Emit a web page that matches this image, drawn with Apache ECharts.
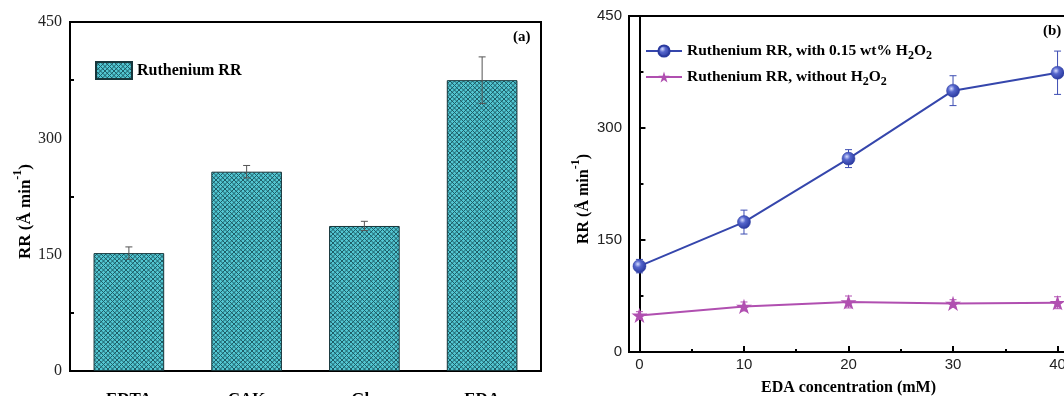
<!DOCTYPE html>
<html>
<head>
<meta charset="utf-8">
<script src="https://cdn.jsdelivr.net/npm/echarts@6/dist/echarts.min.js"></script>
<style>
html,body{margin:0;padding:0;background:#fff;}
#chart{width:1064px;height:396px;}
</style>
</head>
<body>
<div id="chart"></div>
<script>
// ---- data ----
const categories = ['EDTA', 'CAK', 'Gly', 'EDA'];
const barValues = [152, 257, 187, 375];
const barErrors = [8, 8, 6, 30];

const concentrations = [0, 10, 20, 30, 40];
const withH2O2 = [115, 174, 259, 350, 374];
const withH2O2Err = [9, 16, 12, 20, 29];
const withoutH2O2 = [49, 61, 67, 65, 66];
const withoutH2O2Err = [5, 6, 8, 5, 8];

const concTicks = [0, 10, 20, 30, 40];
const concMinorTicks = [5, 15, 25, 35];

const nameBar = 'Ruthenium RR';
const nameWith = 'Ruthenium RR, with 0.15 wt% H2O2';
const nameWithout = 'Ruthenium RR, without H2O2';

// ---- style helpers ----
const SERIF = '"Liberation Serif", "Times New Roman", serif';
const SANS = '"Liberation Sans", Arial, sans-serif';

function makePattern() {
  const c = document.createElement('canvas');
  const s = 9, p = 4.5;
  c.width = s; c.height = s;
  const ctx = c.getContext('2d');
  ctx.fillStyle = '#52c6d2';
  ctx.fillRect(0, 0, s, s);
  ctx.strokeStyle = '#1d5d67';
  ctx.lineWidth = 1;
  ctx.beginPath();
  for (let k = -3; k <= 3; k++) {
    ctx.moveTo(k * p, 0); ctx.lineTo(k * p + s, s);
  }
  for (let k = 0; k <= 6; k++) {
    ctx.moveTo(k * p, 0); ctx.lineTo(k * p - s, s);
  }
  ctx.stroke();
  return c;
}
const pattern = { image: makePattern(), repeat: 'repeat' };

const starPath = 'path://M100 0 L122.45 69.1 L195.1 69.1 L136.3 111.8 L158.8 180.9 L100 138.2 L41.2 180.9 L63.7 111.8 L4.9 69.1 L77.55 69.1 Z';

function errData(xs, vals, errs) {
  return vals.map((v, i) => [xs[i], v - errs[i], v + errs[i]]);
}
function errRenderer(color, cap) {
  return function (params, api) {
    const x = api.value(0);
    const top = api.coord([x, api.value(2)]);
    const bot = api.coord([x, api.value(1)]);
    const st = { stroke: color, lineWidth: 1 };
    return {
      type: 'group',
      children: [
        { type: 'line', shape: { x1: top[0], y1: top[1], x2: bot[0], y2: bot[1] }, style: st },
        { type: 'line', shape: { x1: top[0] - cap, y1: top[1], x2: top[0] + cap, y2: top[1] }, style: st },
        { type: 'line', shape: { x1: bot[0] - cap, y1: bot[1], x2: bot[0] + cap, y2: bot[1] }, style: st }
      ]
    };
  };
}

const legendRich = {
  n: { fontFamily: SERIF, fontWeight: 'bold', fontSize: 15.5, color: '#000', lineHeight: 22, verticalAlign: 'middle' },
  s: { fontFamily: SERIF, fontWeight: 'bold', fontSize: 12, color: '#000', lineHeight: 13, verticalAlign: 'bottom' }
};
function subFormat(name) {
  return name.split(/(H2O2)/).map(part =>
    part === 'H2O2' ? '{n|H}{s|2}{n|O}{s|2}' : (part ? '{n|' + part + '}' : '')
  ).join('');
}

function yName(size) {
  return {
    name: '{b|RR (Å min}{sup|-1}{b|)}',
    nameLocation: 'middle',
    nameRotate: 90,
    nameTextStyle: {
      padding: [0, 30, 0, 0],
      rich: {
        b: { fontFamily: SERIF, fontWeight: 'bold', fontSize: size, color: '#000', lineHeight: 22, verticalAlign: 'bottom' },
        sup: { fontFamily: SERIF, fontWeight: 'bold', fontSize: 12, color: '#000', lineHeight: 22, verticalAlign: 'top' }
      }
    }
  };
}

const blueGrad = {
  type: 'radial', x: 0.38, y: 0.35, r: 0.7,
  colorStops: [{ offset: 0, color: '#d6dcff' }, { offset: 0.35, color: '#5566cc' }, { offset: 1, color: '#25349a' }]
};

const axisLine = { show: true, lineStyle: { color: '#000', width: 2 } };

const option = {
  animation: false,
  backgroundColor: '#fff',
  title: [
    { text: '(a)', left: 513, top: 30, padding: 0, textStyle: { fontFamily: SERIF, fontWeight: 'bold', fontSize: 15, color: '#000' } },
    { text: '(b)', left: 1043, top: 24, padding: 0, textStyle: { fontFamily: SERIF, fontWeight: 'bold', fontSize: 15, color: '#000' } }
  ],
  legend: [
    {
      data: [nameBar], left: 95, top: 61, padding: 0, icon: 'rect',
      itemWidth: 36, itemHeight: 17, itemGap: 5,
      textStyle: { fontFamily: SERIF, fontWeight: 'bold', fontSize: 16, color: '#000' }
    },
    {
      data: [nameWith, nameWithout], left: 645, top: 43, padding: 0, orient: 'vertical',
      itemWidth: 36, itemHeight: 14, itemGap: 7,
      formatter: subFormat,
      textStyle: { rich: legendRich }
    }
  ],
  grid: [
    { left: 70, top: 22, width: 471, height: 349, outerBoundsMode: 'none', containLabel: false, show: true, borderColor: '#000', borderWidth: 2, backgroundColor: 'transparent' },
    { left: 629, top: 16, width: 439, height: 336, outerBoundsMode: 'none', containLabel: false, show: true, borderColor: '#000', borderWidth: 2, backgroundColor: 'transparent' }
  ],
  xAxis: [
    {
      type: 'category', gridIndex: 0, data: categories, position: 'bottom',
      axisLine: axisLine,
      axisTick: { inside: true, alignWithLabel: true, length: 6, lineStyle: { color: '#000', width: 2 } },
      axisLabel: { margin: 20, fontFamily: SERIF, fontWeight: 'bold', fontSize: 17, color: '#000' }
    },
    {
      type: 'category', gridIndex: 0, data: categories, position: 'bottom',
      axisLine: { show: false },
      axisTick: { inside: true, length: 3, lineStyle: { color: '#000', width: 2 } },
      axisLabel: { show: false }
    },
    {
      type: 'value', gridIndex: 1, min: -1, max: 41, position: 'bottom',
      axisLine: axisLine,
      splitLine: { show: false },
      axisTick: { inside: true, length: 6, customValues: concTicks, lineStyle: { color: '#000', width: 2 } },
      axisLabel: { customValues: concTicks, margin: 5, fontFamily: SANS, fontSize: 15, color: '#222' },
      name: 'EDA concentration (mM)', nameLocation: 'middle', nameGap: 28,
      nameTextStyle: { fontFamily: SERIF, fontWeight: 'bold', fontSize: 16, color: '#000' }
    },
    {
      type: 'value', gridIndex: 1, min: -1, max: 41, position: 'bottom',
      axisLine: { show: false },
      splitLine: { show: false },
      axisTick: { inside: true, length: 3, customValues: concMinorTicks, lineStyle: { color: '#000', width: 2 } },
      axisLabel: { show: false }
    }
  ],
  yAxis: [
    Object.assign({
      type: 'value', gridIndex: 0, min: 0, max: 450, interval: 150,
      axisLine: axisLine,
      splitLine: { show: false },
      axisTick: { inside: true, length: 6, lineStyle: { color: '#000', width: 2 } },
      minorTick: { show: true, splitNumber: 2, length: 4, lineStyle: { color: '#000', width: 2 } },
      axisLabel: { margin: 8, fontFamily: SERIF, fontSize: 16, color: '#222' },
      nameGap: 36
    }, yName(17)),
    Object.assign({
      type: 'value', gridIndex: 1, min: 0, max: 450, interval: 150,
      axisLine: axisLine,
      splitLine: { show: false },
      axisTick: { inside: true, length: 6, lineStyle: { color: '#000', width: 2 } },
      minorTick: { show: true, splitNumber: 2, length: 4, lineStyle: { color: '#000', width: 2 } },
      axisLabel: { margin: 7, fontFamily: SANS, fontSize: 15, color: '#222' },
      nameGap: 37
    }, yName(16))
  ],
  series: [
    {
      name: nameBar, type: 'bar', xAxisIndex: 0, yAxisIndex: 0,
      data: barValues, barWidth: '60%',
      itemStyle: { color: pattern, borderColor: '#17363b', borderWidth: 1 }
    },
    {
      name: 'barErr', type: 'custom', xAxisIndex: 0, yAxisIndex: 0, z: 5,
      data: errData(categories.map((c, i) => i), barValues, barErrors),
      renderItem: errRenderer('#555', 3.5)
    },
    {
      name: 'withErr', type: 'custom', xAxisIndex: 2, yAxisIndex: 1, z: 1,
      data: errData(concentrations, withH2O2, withH2O2Err),
      renderItem: errRenderer('#3d4db3', 3.5)
    },
    {
      name: 'withoutErr', type: 'custom', xAxisIndex: 2, yAxisIndex: 1, z: 1,
      data: errData(concentrations, withoutH2O2, withoutH2O2Err),
      renderItem: errRenderer('#b352b3', 3.5)
    },
    {
      name: nameWith, type: 'line', xAxisIndex: 2, yAxisIndex: 1, z: 3,
      data: concentrations.map((x, i) => [x, withH2O2[i]]),
      symbol: 'circle', symbolSize: 13,
      lineStyle: { color: '#3546ac', width: 2 },
      itemStyle: { color: blueGrad, borderColor: '#2a3a9e', borderWidth: 0.5 }
    },
    {
      name: nameWithout, type: 'line', xAxisIndex: 2, yAxisIndex: 1, z: 3,
      data: concentrations.map((x, i) => [x, withoutH2O2[i]]),
      symbol: starPath, symbolSize: 16, symbolKeepAspect: true,
      lineStyle: { color: '#b04fb0', width: 2 },
      itemStyle: { color: '#b04fb0' }
    }
  ]
};

const chart = echarts.init(document.getElementById('chart'), null, { renderer: 'canvas' });
chart.setOption(option);
</script>
</body>
</html>
